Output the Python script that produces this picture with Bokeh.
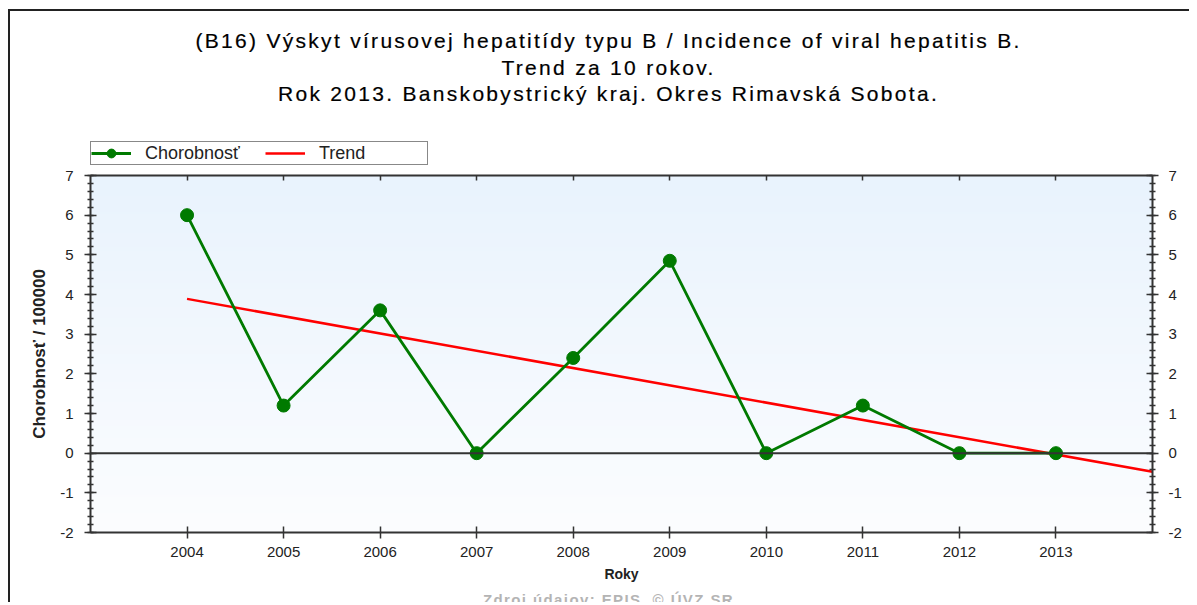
import numpy as np
from bokeh.plotting import figure
from bokeh.layouts import column
from bokeh.models import (LinearAxis, FixedTicker, Range1d, Span, Div,
                          Legend, LegendItem)
from bokeh.embed import file_html
from bokeh.resources import INLINE

# ---------------- data ----------------
years = [2004, 2005, 2006, 2007, 2008, 2009, 2010, 2011, 2012, 2013]
incidence = [6.0, 1.2, 3.6, 0.0, 2.4, 4.85, 0.0, 1.2, 0.0, 0.0]
trend_years = [2004, 2014]
trend_values = [3.89, -0.47]
x_ticks = years
y_ticks = [-2, -1, 0, 1, 2, 3, 4, 5, 6, 7]
y_tick_labels = ["-2", "-1", "0", "1", "2", "3", "4", "5", "6", "7"]
y_minor_ticks = [round(-2 + 0.2 * i, 1) for i in range(46)]
title_lines = [
    "(B16) Výskyt vírusovej hepatitídy typu B / Incidence of viral hepatitis B.",
    "Trend za 10 rokov.",
    "Rok 2013. Banskobystrický kraj. Okres Rimavská Sobota.",
]
legend_labels = ["Chorobnosť", "Trend"]
y_label = "Chorobnosť / 100000"
x_label = "Roky"
source_note = "Zdroj údajov: EPIS, © ÚVZ SR"

# ---------------- styling ----------------
FONT = "Liberation Sans"
DARK = "#333333"
GREEN = "#007a00"
RED = "#ff0000"
W = 1179

# title block (HTML text)
title_html = (
    '<div style="width:%dpx; text-align:center; position:relative; left:9px; '
    'padding-top:17px; font-family:\'Liberation Sans\', Arial, sans-serif; '
    'font-size:21px; letter-spacing:2.3px; line-height:26.5px; color:#000000; '
    '-webkit-text-stroke:0.2px #000000;">%s</div>'
    % (W, "<br>".join(title_lines))
)
title_div = Div(text=title_html, width=W, height=122, margin=0)

# ---------------- main figure ----------------
p = figure(width=W, height=425, output_backend="svg", toolbar_location=None,
           x_range=Range1d(2003, 2014), y_range=Range1d(-2, 7),
           x_axis_location=None, y_axis_location=None,
           min_border_left=80, min_border_right=37,
           min_border_top=10, min_border_bottom=58)
p.xgrid.visible = False
p.ygrid.visible = False
p.outline_line_color = None
p.background_fill_color = "white"
p.border_fill_color = "white"
p.margin = 0

# gradient background of the plot area
ny = 256
t = np.linspace(0.0, 1.0, ny)
img = np.empty((ny, 1), dtype=np.uint32)
view = img.view(dtype=np.uint8).reshape((ny, 1, 4))
view[:, 0, 0] = (252 + (233 - 252) * t).astype(np.uint8)
view[:, 0, 1] = (253 + (243 - 253) * t).astype(np.uint8)
view[:, 0, 2] = (255 + (253 - 255) * t).astype(np.uint8)
view[:, 0, 3] = 255
p.image_rgba(image=[img], x=2003, y=-2, dw=11, dh=9, level="image")

def style_axis(ax):
    ax.axis_line_color = DARK
    ax.axis_line_width = 2
    ax.major_tick_line_color = DARK
    ax.major_tick_line_width = 1.5
    ax.minor_tick_line_color = DARK
    ax.minor_tick_line_width = 1.5
    ax.major_label_text_font = FONT
    ax.major_label_text_font_size = "15px"
    ax.major_label_text_color = "#222222"

yt = FixedTicker(ticks=y_ticks, minor_ticks=y_minor_ticks)
xt = FixedTicker(ticks=x_ticks, minor_ticks=[])
y_overrides = {k: v for k, v in zip(y_ticks, y_tick_labels)}

left = LinearAxis(ticker=yt, axis_label=y_label)
style_axis(left)
left.major_label_overrides = y_overrides
left.major_tick_in = 6
left.major_tick_out = 6
left.minor_tick_in = 3
left.minor_tick_out = 3
left.major_label_standoff = 11
left.axis_label_standoff = 8
left.axis_label_text_font = FONT
left.axis_label_text_font_style = "bold"
left.axis_label_text_font_size = "17px"
left.axis_label_text_color = "#222222"
p.add_layout(left, "left")

right = LinearAxis(ticker=yt)
style_axis(right)
right.major_label_overrides = y_overrides
right.major_tick_in = 6
right.major_tick_out = 6
right.minor_tick_in = 3
right.minor_tick_out = 3
right.major_label_standoff = 10
p.add_layout(right, "right")

bottom = LinearAxis(ticker=xt, axis_label=x_label)
style_axis(bottom)
bottom.major_tick_in = 6
bottom.major_tick_out = 6
bottom.minor_tick_in = 0
bottom.minor_tick_out = 0
bottom.major_label_standoff = 8
bottom.axis_label_standoff = 6
bottom.axis_label_text_font = FONT
bottom.axis_label_text_font_style = "bold"
bottom.axis_label_text_font_size = "14px"
bottom.axis_label_text_color = "#222222"
p.add_layout(bottom, "below")

top = LinearAxis(ticker=xt)
style_axis(top)
top.major_tick_in = 5
top.major_tick_out = 0
top.minor_tick_in = 0
top.minor_tick_out = 0
top.major_label_standoff = 0
top.major_label_text_font_size = "8px"
top.major_label_text_alpha = 0
p.add_layout(top, "above")

# zero line
p.add_layout(Span(location=0, dimension="width", line_color=DARK, line_width=2))

# series
p.line(trend_years, trend_values, line_color=RED, line_width=2.5)
p.line(years, incidence, line_color=GREEN, line_width=2.8)
p.scatter(years, incidence, size=13, marker="circle",
          fill_color=GREEN, line_color=GREEN)

# ---------------- legend strip (own canvas, so it is not clipped) ----------------
# same series drawn outside this strip's visible ranges; only their legend shows
lf = figure(width=W, height=32, output_backend="svg", toolbar_location=None,
            x_range=Range1d(0, 1), y_range=Range1d(100, 101),
            x_axis_location=None, y_axis_location=None,
            min_border=0, min_border_left=80, min_border_right=37,
            min_border_top=0, min_border_bottom=0)
lf.xgrid.visible = False
lf.ygrid.visible = False
lf.outline_line_color = None
lf.background_fill_color = "white"
lf.border_fill_color = "white"
lf.margin = 0
lg_line = lf.line(years, incidence, line_color=GREEN, line_width=2.8)
lg_pts = lf.scatter(years, incidence, size=11, marker="circle",
                    fill_color=GREEN, line_color=GREEN)
lg_trend = lf.line(trend_years, trend_values, line_color=RED, line_width=2.5)
legend = Legend(items=[LegendItem(label=legend_labels[0], renderers=[lg_line, lg_pts]),
                       LegendItem(label=legend_labels[1], renderers=[lg_trend])],
                location=(0, 0), orientation="horizontal",
                border_line_color="#111111", border_line_width=1.5,
                background_fill_color="white", background_fill_alpha=1.0,
                label_text_font=FONT, label_text_font_size="18px",
                label_text_color="#222222",
                glyph_width=40, glyph_height=22, label_height=22,
                label_width=108, label_standoff=14, spacing=12,
                padding=0, margin=0)
lf.add_layout(legend)

# source note (partly cut at the bottom edge, as in the original)
src_html = (
    '<div style="width:%dpx; text-align:center; position:relative; left:9px; '
    'padding-top:1px; font-family:\'Liberation Sans\', Arial, sans-serif; '
    'font-size:15px; font-weight:bold; letter-spacing:1.4px; color:#b4b4b4; '
    'line-height:17px;">%s</div>'
    % (W, source_note)
)
src_div = Div(text=src_html, width=W, height=12, margin=0,
              styles={"overflow": "hidden"})

root = column(title_div, lf, p, src_div, spacing=0)
root.margin = (9, 0, 0, 8)
root.styles = {"border-top": "2px solid #222222", "border-left": "2px solid #222222"}

open("out.html", "w").write(file_html(root, INLINE))
